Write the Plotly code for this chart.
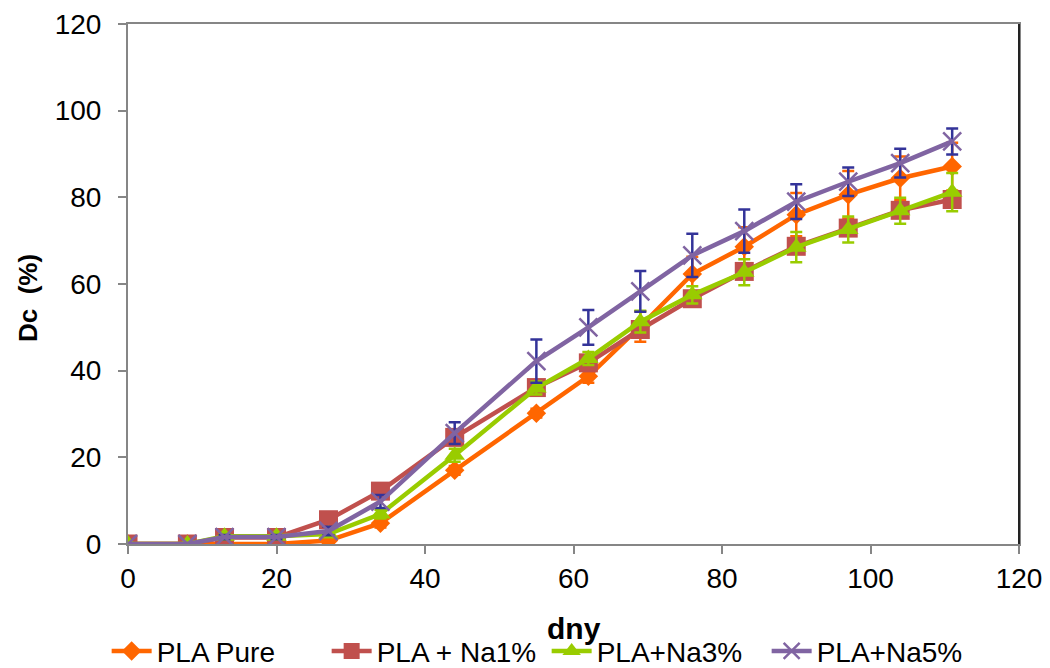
import plotly.graph_objects as go

days = [0, 8, 13, 20, 27, 34, 44, 55, 62, 69, 76, 83, 90, 97, 104, 111]

pla_pure = [0, 0, 0, 0, 0.8, 4.8, 17, 30.2, 38.7, 50.2, 62.3, 68.6, 76, 80.6, 84.4, 87.1]
pla_na1 = [0, 0, 1.5, 1.5, 5.6, 12.2, 24.6, 36.1, 41.8, 49.5, 56.6, 62.9, 68.7, 72.9, 77.0, 79.5]
pla_na3 = [0, 0, 1.8, 1.8, 2.3, 6.9, 20.5, 36.0, 42.8, 51.3, 57.5, 62.7, 68.5, 72.6, 76.9, 81.2]
pla_na5 = [0, 0, 1.6, 1.6, 3.0, 9.8, 25.6, 42.2, 50.0, 58.3, 66.6, 72.2, 79.0, 83.6, 87.9, 92.9]

err_pure = [0, 0, 0, 0, 0.5, 1, 1, 1, 1.5, 3.5, 4, 4.5, 5, 5.5, 5, 5.5]
err_na1 = [0, 0, 0.5, 0.5, 0.5, 1, 1, 1, 1, 1, 1, 1, 1, 1, 1, 1]
err_na3 = [0, 0, 0.5, 0.5, 0.5, 1, 1.5, 1.5, 1.5, 2.5, 2, 3, 3.5, 3, 3, 4.4]
err_na5 = [0, 0, 0.5, 0.5, 1, 1.5, 2.5, 5, 4, 4.7, 5, 5, 4, 3.3, 3.3, 3]

names = ["PLA Pure", "PLA + Na1%", "PLA+Na3%", "PLA+Na5%"]
x_title = "dny"
y_title = "Dc  (%)"

series = [
    (names[0], pla_pure, err_pure, "#FF6600", "#FF6600", "diamond", 15, 0),
    (names[1], pla_na1, err_na1, "#C0504D", "#C0504D", "square", 19, 0),
    (names[2], pla_na3, err_na3, "#99CC00", "#99CC00", "triangle-up", 18, 0),
    (names[3], pla_na5, err_na5, "#8064A2", "#333399", "x-thin", 18, 2.5),
]

fig = go.Figure()
for name, vals, err, col, ecol, sym, size, mlw in series:
    fig.add_trace(go.Scatter(
        x=days, y=vals, name=name, mode="lines+markers",
        line=dict(color=col, width=4.5),
        marker=dict(symbol=sym, size=size, color=col,
                    line=dict(color=col, width=mlw)),
        error_y=dict(type="data", array=err, visible=True, color=ecol,
                     thickness=2.5, width=6),
    ))

fig.update_layout(
    width=1050, height=668,
    margin=dict(l=120, r=39, t=16, b=132, autoexpand=False),
    paper_bgcolor="white", plot_bgcolor="white",
    font=dict(family="Liberation Sans, Arial, sans-serif", size=28, color="black"),
    showlegend=True,
    legend=dict(orientation="h", xref="container", x=0.513, xanchor="center",
                yref="container", y=0.037, yanchor="middle",
                font=dict(size=28), bgcolor="rgba(0,0,0,0)", itemwidth=40,
                tracegroupgap=0, entrywidthmode="pixels", entrywidth=165),
    xaxis=dict(
        range=[0, 120], dtick=20, tick0=0, automargin=False,
        showgrid=False, zeroline=False,
        showline=True, linecolor="#868686", linewidth=2, mirror=True,
        ticks="outside", ticklen=8, tickwidth=2, tickcolor="#868686",
        tickfont=dict(size=28),
    ),
    yaxis=dict(
        range=[0, 120], dtick=20, tick0=0, automargin=False,
        showgrid=False, zeroline=False,
        showline=True, linecolor="#868686", linewidth=2, mirror=True,
        ticks="outside", ticklen=8, tickwidth=2, tickcolor="#868686",
        tickfont=dict(size=28), ticklabelstandoff=11,
    ),
    annotations=[
        dict(text="<b>" + x_title + "</b>", xref="paper", yref="paper", x=0.5, y=0,
             xanchor="center", yanchor="middle", yshift=-84, showarrow=False,
             font=dict(size=30)),
        dict(text="<b>" + y_title + "</b>", xref="paper", yref="paper", x=0, y=0.5,
             xanchor="center", yanchor="middle", xshift=-100, yshift=-14,
             textangle=-90, showarrow=False, font=dict(size=26)),
    ],
    shapes=[dict(type="line", xref="paper", yref="paper", x0=1, x1=1, y0=0, y1=1,
                 line=dict(color="#222222", width=2))],
)

fig.write_html("out.html")
